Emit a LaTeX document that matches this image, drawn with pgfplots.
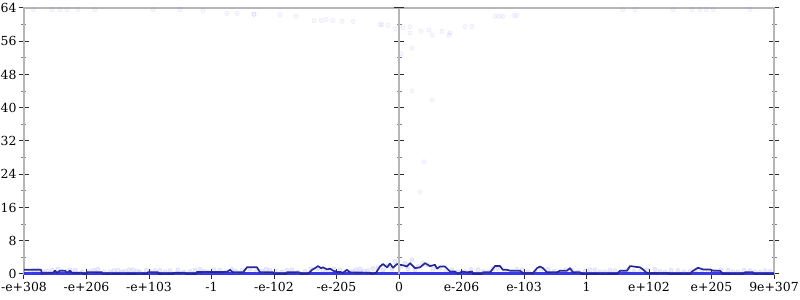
\documentclass[border=0pt]{standalone}
\usepackage{pgfplots}
\pgfplotsset{compat=1.18}
\usepackage{fontspec}
\setmainfont{DejaVu Serif}
\definecolor{axgray}{RGB}{182,182,182}
\definecolor{tk}{RGB}{45,45,45}
\definecolor{navyline}{RGB}{38,38,145}
\definecolor{bright}{RGB}{55,55,235}
\definecolor{faint}{RGB}{90,90,230}

\pgfplotstableread{
px val
24 1.0
41 1.0
42 0
43 0.3
53 0.3
55 0.8
57 0.3
60 0.8
65 0.8
67 0.3
70 0.8
72 0.3
82 0.3
83 0
86 0
87 0.4
102 0.4
103 0
147 0
148 0.4
158 0.4
159 0
173 0
174 0.3
185 0.3
186 0
196 0
197 0.5
227 0.5
230 1.0
233 0.4
243 0.4
247 1.6
257 1.6
260 0.4
273 0.4
274 0
286 0
287 0.4
299 0.4
301 0
308 0
312 1.0
315 1.4
318 1.9
321 1.4
323 1.6
327 1.1
330 1.3
333 0.8
337 0.5
340 0.5
343 0.3
347 1.0
350 0.4
370 0.3
372 0
376 0.3
380 1.8
383 2.4
387 1.6
390 2.5
393 1.5
397 2.4
400 2.2
403 2.1
407 1.8
410 2.6
415 1.4
420 1.6
425 2.6
430 1.9
435 2.2
437 1.3
440 1.8
445 1.8
450 0.6
455 0.6
458 0
462 0.6
467 0.4
472 0.6
473 0
482 0
483 0.4
490 0.4
495 1.9
500 1.9
503 1.0
507 1.0
510 0.8
520 0.8
523 0.2
533 0.2
537 1.4
540 1.8
543 1.4
547 0.4
557 0.4
560 0.8
567 0.8
570 1.4
573 0.4
580 0.4
582 0
617 0
620 0.8
627 0.8
630 1.9
640 1.6
643 1.1
647 0.2
667 0.2
670 0
690 0
692 0.6
698 1.5
703 1.1
710 1.1
713 0.8
720 0.8
723 0
743 0
745 0.4
753 0.4
754 0
774 0
}\linedata

\begin{document}
\begin{tikzpicture}
\begin{axis}[
  scale only axis, width=750bp, height=266bp,
  xmin=24, xmax=774, ymin=0, ymax=64,
  axis line style={axgray, line width=1.5bp},
  xtick={24,86.5,149,211.5,274,336.5,399,461.5,524,586.5,649,711.5,774},
  xticklabels={-e+308,-e+206,-e+103,-1,-e-102,-e-205,0,e-206,e-103,1,e+102,e+205,9e+307},
  ytick={0,8,...,64},
  minor ytick={4,12,...,60},
  xtick pos=bottom, ytick pos=both, yticklabel pos=left,
  tick align=center,
  major tick length=10bp, minor tick length=5bp,
  major tick style={tk, line width=1bp},
  minor tick style={gray, line width=0.8bp},
  tick label style={font=\fontsize{12.5}{14}\selectfont, text=black},
  /pgf/number format/assume math mode=true,
  yticklabel style={xshift=1bp},
  clip=false,
]
\addplot[only marks, mark=*, mark size=2.2bp,
  mark options={fill=faint, draw=faint, fill opacity=0.05, draw opacity=0.13}] coordinates {
(33,63.6)(52,63.6)(60,63.6)(67,63.6)(78,63.6)(95,63.6)(153,63.6)(180,63.6)(203,63.4)
(227,62.7)(237,62.7)(254,62.5)(254,62.5)(280,62.3)(296,62.0)(314,61.0)(321,61.0)(326,61.2)
(333,61.0)(342,60.8)(353,60.8)(380,60.0)(382,60.0)(388,59.8)(395,59.0)(403,59.3)(410,59.5)
(410,58.0)(421,58.4)(429,58.7)(432,57.5)(442,58.4)(450,58.0)(449,57.5)(465,59.5)(472,59.5)
(495,62.0)(499,62.0)(503,62.0)(514,62.2)(517,62.2)(401,53.0)(412,54.3)(412,44.0)(432,41.8)
(424,27.0)(420,19.7)(623,63.6)(635,63.6)(673,63.6)(692,63.6)(700,63.6)(706,63.6)(713,63.6)(750,63.6)
};
\addplot[only marks, mark=*, mark size=2.2bp,
  mark options={fill=faint, draw=faint, fill opacity=0.12, draw opacity=0.18}] coordinates {
(30,0.6)(34,0.9)(38,1.0)(43,0.5)(47,0.7)(52,0.9)(58,1.2)(62,0.6)(66,0.5)(70,1.0)(75,0.9)(82,0.5)
(90,0.6)(94,0.9)(98,1.1)(104,0.5)(110,0.5)(114,0.8)(118,0.9)(122,0.4)(125,0.6)(129,1.0)
(133,1.0)(137,0.6)(140,0.4)(146,0.9)(150,0.5)(155,0.8)(160,0.9)(165,0.5)(170,0.8)(178,1.0)(184,0.5)
(190,0.6)(195,0.9)(200,1.1)(204,0.6)(208,0.5)(214,1.0)(220,0.9)(226,0.5)(232,1.1)(236,0.6)(242,0.9)
(250,1.2)(256,0.6)(262,0.7)(266,1.1)(270,0.9)(276,0.6)(282,0.5)(287,0.9)(292,1.0)(298,0.5)
(305,0.6)(311,1.2)(318,1.3)(323,0.8)(328,0.8)(334,1.2)(340,1.0)(346,0.6)(352,0.6)(356,1.0)
(360,1.2)(364,0.7)(368,0.8)(373,1.3)(378,1.5)(383,1.0)(388,2.0)(392,1.2)(395,3.0)(400,1.6)(405,2.6)
(408,1.2)(412,3.4)(415,1.0)(418,1.8)(423,2.5)(428,2.2)(433,1.2)(440,1.4)(446,0.8)
(452,1.0)(458,0.5)(465,0.6)(471,1.1)(478,1.0)(483,0.6)(488,0.5)(493,1.2)(498,1.3)(505,0.7)(512,0.7)
(517,1.1)(522,1.0)(528,0.5)(535,0.6)(541,1.2)(548,1.1)(554,0.6)(560,0.5)(566,1.0)
(572,0.9)(578,0.5)(585,0.6)(590,1.0)(595,1.0)(600,0.5)(605,0.5)(610,0.9)(615,0.8)(621,0.5)(628,1.0)
(634,0.6)(640,0.6)(647,1.0)(655,1.1)(660,0.6)(665,0.5)(671,0.9)(678,0.8)(684,0.5)
(690,0.6)(696,1.0)(702,1.0)(708,0.6)(715,0.7)(721,1.0)(728,0.9)(733,0.5)(738,0.5)(744,0.9)(750,0.8)(755,0.5)(760,0.4)(765,0.8)(770,0.6)
};
\addplot[bright, line width=3bp] coordinates {(24,0) (774,0)};
\addplot[navyline, line width=1.7bp, line join=round] table[x=px, y=val] {\linedata};
\end{axis}
\begin{axis}[
  scale only axis, width=750bp, height=266bp,
  xmin=-375, xmax=375, ymin=0, ymax=64,
  axis x line=none, axis y line=middle,
  axis line style={axgray, line width=1.5bp, -},
  ytick={8,16,...,64},
  minor ytick={4,12,...,60},
  yticklabels={},
  tick align=center,
  major tick length=10bp, minor tick length=5bp,
  major tick style={tk, line width=1bp},
  minor tick style={gray, line width=0.8bp},
]
\addplot[draw=none] coordinates {(0,0)};
\end{axis}
\pgfresetboundingbox
\path[use as bounding box] ([xshift=-24bp,yshift=-26bp]current axis.south west) rectangle ([xshift=26bp,yshift=8bp]current axis.north east);
\end{tikzpicture}
\end{document}
